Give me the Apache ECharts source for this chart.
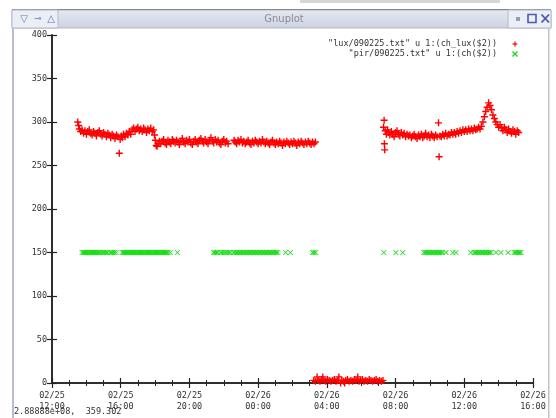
<!DOCTYPE html>
<html><head><meta charset="utf-8">
<script src="https://cdn.jsdelivr.net/npm/echarts@6/dist/echarts.min.js"></script>
<style>html,body{margin:0;padding:0;background:#fff}#c{width:556px;height:418px}</style>
</head><body><div id="c"></div>
<script>
// x in minutes since 02/25 12:00
const xTickLabels = ['02/25\n12:00','02/25\n16:00','02/25\n20:00','02/26\n00:00','02/26\n04:00','02/26\n08:00','02/26\n12:00','02/26\n16:00'];
const xMin = 0, xMax = 1680, xStep = 240;
const yMin = 0, yMax = 400, yStep = 50;
const luxName = '"lux/090225.txt" u 1:(ch_lux($2))';
const pirName = '"pir/090225.txt" u 1:(ch($2))';
const windowTitle = 'Gnuplot';
const statusText = '2.88888e+08,  359.302';

const luxDay = [
[90,300],[93,296],[96,292],[100,289],[105,291],[110,287],[115,290],[120,286],[125,289],[130,291],[135,287],[140,285],[145,289],[150,287],[155,284],[160,288],[165,290],[170,286],[175,284],[180,288],[185,286],[190,283],[195,287],[200,285],[205,282],[210,286],[215,284],[220,281],[225,285],[230,283],[235,264],[238,280],[242,284],[246,282],[250,286],[255,283],[260,287],[265,285],[270,289],[275,286],[280,291],[285,293],[290,289],[295,292],[300,294],[305,290],[310,292],[315,289],[320,293],[325,291],[330,288],[335,292],[340,290],[345,293],[350,289],[355,291],
[358,285],[361,279],[364,273],[367,272],[370,275],[375,278]
];
const luxEvening = [
[380,275],[385,278],[390,280],[395,276],[400,274],[405,279],[410,277],[415,275],[420,280],[425,278],[430,276],[435,279],[440,277],[445,274],[450,278],[455,281],[460,277],[465,275],[470,279],[475,277],[480,280],[485,276],[490,274],[495,278],[500,280],[505,277],[510,275],[515,279],[520,281],[525,278],[530,276],[535,280],[540,277],[545,275],[550,279],[555,282],[560,278],[565,276],[570,280],[575,277],[580,279],[585,276],[590,274],[595,278],[600,280],[605,276],[610,278],[615,275],
[636,279],[640,277],[645,275],[650,279],[655,277],[660,280],[665,276],[670,278],[675,275],[680,277],[685,279],[690,276],[695,274],[700,278],[705,276],[710,279],[715,277],[720,275],[725,278],[730,276],[735,280],[740,277],[745,275],[750,278],[755,276],[760,274],[765,277],[770,279],[775,276],[780,274],[785,277],[790,275],[795,278],[800,276],[805,273],[810,277],[815,275],[820,278],[825,276],[830,274],[835,277],[840,275],[845,278],[850,276],[855,273],[860,277],[865,275],[870,278],[875,276],[880,274],[885,277],[890,275],[895,278],[900,276],[905,274],[910,277],[915,275],[920,277]
];
const luxNight = [
[914,3],[920,2],[926,7],[930,3],[936,2],[942,4],[946,7],[950,3],[956,2],[962,4],[968,3],[974,2],[980,3],[986,4],[992,2],[998,3],[1002,7],[1008,0],[1012,3],[1018,2],[1022,0],[1026,3],[1032,4],[1038,2],[1044,3],[1050,2],[1056,4],[1062,3],[1068,7],[1072,2],[1078,3],[1084,4],[1090,2],[1096,3],[1102,2],[1108,4],[1114,3],[1120,2],[1126,3],[1132,4],[1138,2],[1144,3],[1150,2],[1156,3]
];
const luxMorning = [
[1160,302],[1161,275],[1162,268],
[1158,294],[1164,290],[1168,286],[1172,291],[1176,288],[1180,285],[1185,289],[1190,286],[1195,283],[1200,288],[1205,290],[1210,286],[1215,284],[1220,288],[1225,285],[1230,287],[1235,283],[1240,286],[1245,284],[1250,285],[1255,282],[1260,284],[1265,286],[1270,283],[1275,281],[1280,285],[1285,283],[1290,286],[1295,282],[1300,284],[1305,287],[1310,283],[1315,285],[1320,282],[1325,286],[1330,284],[1335,282],[1340,285],[1345,283],[1350,299],[1352,260],[1355,284],[1360,283],[1365,286],[1370,284],[1375,287],[1380,284],[1385,286],[1390,285],[1395,288],[1400,286],[1405,288],[1410,286],[1415,289],[1420,287],[1425,290],[1430,288],[1435,291],[1440,289],[1445,291],[1450,289],[1455,292],[1460,290],[1465,292],[1470,290],[1475,293],[1480,291],[1485,292],[1490,294],[1495,292],[1500,295],[1505,300],[1510,306],[1515,312],[1520,317],[1525,322],[1530,319],[1535,314],[1540,308],[1545,304],[1550,300],[1555,297],[1560,294],[1565,297],[1570,293],[1575,290],[1580,294],[1585,291],[1590,288],[1595,292],[1600,289],[1605,287],[1610,291],[1615,289],[1620,286],[1625,290],[1630,288]
];
const pirMinutes = [
105,109,113,117,121,125,129,133,137,141,145,149,153,157,161,165,168,
175,180,185,190,193,
203,208,213,218,224,
245,249,253,257,261,265,269,273,277,281,285,289,293,297,301,305,309,313,317,321,325,329,333,337,341,345,349,353,357,361,365,369,373,377,381,385,389,393,397,401,405,
413,438,
564,569,574,578,
588,594,600,606,612,618,623,
634,639,644,649,654,659,664,669,674,679,684,689,694,699,704,709,714,719,724,729,734,
739,744,749,754,759,764,769,774,779,784,789,
816,833,
910,915,921,
1159,
1201,1225,
1299,1304,1309,1314,1319,1324,1329,1334,1339,1344,1349,1354,1359,1364,
1376,1400,1411,
1463,
1474,1479,1484,1489,1494,1499,1504,1509,1514,1519,1524,1529,1533,
1551,1568,1593,
1614,1619,1624,1629,1634,1638
];
const pirLevel = 150;

const luxData = luxDay.concat(luxEvening, luxNight, luxMorning);
const pirData = pirMinutes.map(m => [m, pirLevel]);

const RED = '#ff0000', GREEN = '#11dd11', INK = '#333';
const MONO = '"DejaVu Sans Mono", "Liberation Mono", monospace';
const plusPath = 'path://M4,0H6V4H10V6H6V10H4V6H0V4H4Z';
const crossPath = 'path://M1,0L5,4L9,0L10,1L6,5L10,9L9,10L5,6L1,10L0,9L4,5L0,1Z';

const chart = echarts.init(document.getElementById('c'), null, {renderer: 'canvas'});
const axisLine = {show: true, lineStyle: {color: '#222', width: 1.5}};
const tick = {show: true, inside: true, length: 5, lineStyle: {color: '#222', width: 1.2}};
const grid = {left: 52, right: 23, top: 35, bottom: 35};

function legendMark(cx, cy, color, kind) {
  const s = 2.5;
  const l = kind === 'plus'
    ? [[cx - s, cy, cx + s, cy], [cx, cy - s, cx, cy + s]]
    : [[cx - s, cy - s, cx + s, cy + s], [cx - s, cy + s, cx + s, cy - s]];
  return l.map(p => ({type: 'line', shape: {x1: p[0], y1: p[1], x2: p[2], y2: p[3]}, style: {stroke: color, lineWidth: 1.2}}));
}

chart.setOption({
  animation: false,
  backgroundColor: '#fff',
  grid: grid,
  xAxis: [{
    type: 'value', min: xMin, max: xMax, interval: xStep, position: 'bottom',
    axisLine: axisLine, axisTick: tick,
    minorTick: {show: true, splitNumber: 4, length: 3, lineStyle: {color: '#222', width: 1}},
    splitLine: {show: false},
    axisLabel: {margin: 7, color: INK, fontFamily: MONO, fontSize: 8.5, lineHeight: 11,
      formatter: v => xTickLabels[Math.round((v - xMin) / xStep)]}
  }, {
    type: 'value', min: xMin, max: xMax, interval: xStep, position: 'top',
    axisLine: axisLine, axisTick: tick,
    minorTick: {show: true, splitNumber: 4, length: 3, lineStyle: {color: '#222', width: 1}},
    splitLine: {show: false}, axisLabel: {show: false}
  }],
  yAxis: [{
    type: 'value', min: yMin, max: yMax, interval: yStep, position: 'left',
    axisLine: axisLine, axisTick: tick, splitLine: {show: false},
    axisLabel: {margin: 5, color: INK, fontFamily: MONO, fontSize: 8.5}
  }, {
    type: 'value', min: yMin, max: yMax, interval: yStep, position: 'right',
    axisLine: axisLine, axisTick: tick, splitLine: {show: false}, axisLabel: {show: false}
  }],
  series: [{
    name: luxName, type: 'scatter', data: luxData, symbol: plusPath, symbolSize: 7,
    itemStyle: {color: RED, opacity: 1}, silent: true
  }, {
    name: pirName, type: 'scatter', data: pirData, symbol: crossPath, symbolSize: 5.5,
    itemStyle: {color: GREEN, opacity: 1}, silent: true
  }],
  graphic: [
    // window frame
    {type: 'rect', shape: {x: 300, y: 0, width: 200, height: 3}, style: {fill: '#bbb', opacity: 0.6}, silent: true},
    {type: 'rect', shape: {x: 12, y: 9, width: 539, height: 1.5}, style: {fill: '#555'}, silent: true},
    {type: 'rect', shape: {x: 12, y: 10, width: 539, height: 18},
      style: {fill: new echarts.graphic.LinearGradient(0, 0, 0, 1, [{offset: 0, color: '#e6e8f2'}, {offset: 1, color: '#cdd1e2'}]), stroke: '#b4b8cc', lineWidth: 1}, silent: true},
    {type: 'rect', shape: {x: 12, y: 10, width: 46, height: 18}, style: {fill: '#eceef5', stroke: '#b4b8cc', lineWidth: 1}, silent: true},
    {type: 'rect', shape: {x: 508, y: 10, width: 43, height: 18}, style: {fill: '#eceef5', stroke: '#b4b8cc', lineWidth: 1}, silent: true},
    {type: 'text', x: 24, y: 19, style: {text: '▽', fill: '#6a70c0', font: '10px "DejaVu Sans"', textAlign: 'center', textVerticalAlign: 'middle'}},
    {type: 'text', x: 38, y: 19, style: {text: '⊸', fill: '#6a70c0', font: '9px "DejaVu Sans"', textAlign: 'center', textVerticalAlign: 'middle'}},
    {type: 'text', x: 51, y: 19, style: {text: '△', fill: '#6a70c0', font: '10px "DejaVu Sans"', textAlign: 'center', textVerticalAlign: 'middle'}},
    {type: 'text', x: 284, y: 19.5, style: {text: windowTitle, fill: '#8a8c98', font: '10px "DejaVu Sans"', textAlign: 'center', textVerticalAlign: 'middle'}},
    {type: 'rect', shape: {x: 516, y: 17, width: 4, height: 4}, style: {fill: '#9a9cb0'}, silent: true},
    {type: 'rect', shape: {x: 528, y: 14.5, width: 8, height: 8}, style: {fill: 'none', stroke: '#4a5ab0', lineWidth: 1.6}, silent: true},
    {type: 'line', shape: {x1: 541.5, y1: 14.5, x2: 549, y2: 22.5}, style: {stroke: '#4a5ab0', lineWidth: 1.8}},
    {type: 'line', shape: {x1: 541.5, y1: 22.5, x2: 549, y2: 14.5}, style: {stroke: '#4a5ab0', lineWidth: 1.8}},
    {type: 'rect', shape: {x: 12, y: 28, width: 2, height: 390}, style: {fill: '#b8bcd8'}, silent: true},
    {type: 'rect', shape: {x: 548, y: 28, width: 1.5, height: 390}, style: {fill: '#c0c2d0'}, silent: true},
    // key
    {type: 'text', x: 497, y: 43.5, style: {text: luxName, fill: INK, font: '8.5px ' + MONO, textAlign: 'right', textVerticalAlign: 'middle'}},
    {type: 'text', x: 497, y: 53.5, style: {text: pirName, fill: INK, font: '8.5px ' + MONO, textAlign: 'right', textVerticalAlign: 'middle'}},
    ...legendMark(515, 44, RED, 'plus'),
    ...legendMark(515, 54, GREEN, 'cross'),
    // status line
    {type: 'text', x: 14, y: 412, style: {text: statusText, fill: INK, font: '8.5px ' + MONO, textAlign: 'left', textVerticalAlign: 'middle'}}
  ]
});
</script>
</body></html>
